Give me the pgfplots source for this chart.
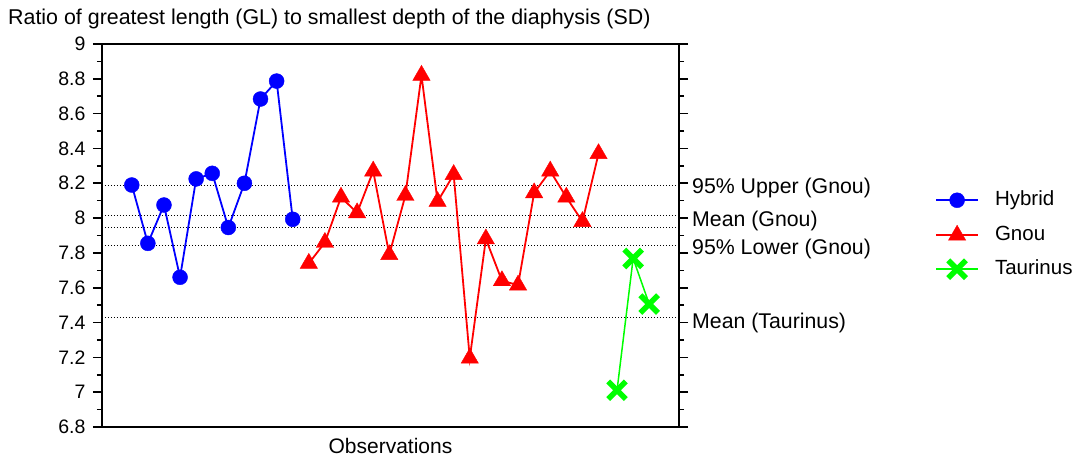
\documentclass[border=0pt]{standalone}
\usepackage{fontspec}
\setmainfont{Liberation Sans}
\usepackage{pgfplots}
\pgfplotsset{compat=1.18}
\definecolor{myblue}{RGB}{0,0,255}
\definecolor{myred}{RGB}{255,0,0}
\definecolor{mygreen}{RGB}{0,255,0}
\begin{document}
\begin{tikzpicture}
\begin{axis}[
  name=main,
  at={(0pt,0pt)}, anchor=south west,
  scale only axis, width=577pt, height=383pt,
  xmin=-0.85, xmax=35, ymin=6.8, ymax=9,
  xtick=\empty,
  ytick={6.8,7,7.2,7.4,7.6,7.8,8,8.2,8.4,8.6,8.8,9},
  minor y tick num=1,
  tick align=outside,
  major tick length=9pt, minor tick length=5pt,
  axis line style={line width=1.6pt, black},
  tick style={line width=1.6pt, black},
  /pgf/number format/assume math mode=true,
  /pgf/number format/fixed,
  yticklabel style={font=\fontsize{19.5}{19.5}\selectfont, xshift=-4pt},
  xlabel={Observations},
  xlabel style={font=\fontsize{21}{21}\selectfont, at={(axis description cs:0.5,0)}, anchor=base, yshift=-27pt},
  clip=false,
  legend cell align=left,
  legend style={draw=none, fill=none, at={(axis description cs:1.4437,0.502)}, anchor=west,
    inner sep=0pt, row sep=16pt,
    nodes={inner sep=0pt, font=\fontsize{20.5}{20.5}\selectfont, text height=14pt, text depth=4pt},
    /tikz/every odd column/.append style={column sep=16pt}},
  legend image code/.code={\draw[mark repeat=2,mark phase=2,#1] plot coordinates {(0pt,0pt) (21pt,0pt) (42pt,0pt)};},
]
% reference lines
\addplot[black, line width=1pt, dash pattern=on 1pt off 2pt, forget plot] coordinates {(-0.85,8.188) (35,8.188)};
\addplot[black, line width=1pt, dash pattern=on 1pt off 2pt, forget plot] coordinates {(-0.85,8.017) (35,8.017)};
\addplot[black, line width=1pt, dash pattern=on 1pt off 2pt, forget plot] coordinates {(-0.85,7.948) (35,7.948)};
\addplot[black, line width=1pt, dash pattern=on 1pt off 2pt, forget plot] coordinates {(-0.85,7.845) (35,7.845)};
\addplot[black, line width=1pt, dash pattern=on 1pt off 2pt, forget plot] coordinates {(-0.85,7.429) (35,7.429)};
% Hybrid
\addplot[myblue, line width=1.8pt, mark=*, mark size=7.5pt, mark options={solid, fill=myblue, draw=myblue, line width=0.4pt}]
coordinates {(1,8.19) (2,7.855) (3,8.075) (4,7.66) (5,8.225) (6,8.257) (7,7.946) (8,8.20) (9,8.684) (10,8.787) (11,7.993)};
\addlegendentry{Hybrid}
% Gnou
\addplot[myred, line width=1.8pt, mark=triangle*, mark size=10pt, mark options={solid, fill=myred, draw=myred, line width=0.4pt}]
coordinates {(12,7.74) (13,7.86) (14,8.12) (15,8.03) (16,8.27) (17,7.79) (18,8.13) (19,8.82) (20,8.095) (21,8.25) (22,7.195) (23,7.88) (24,7.64) (25,7.615) (26,8.145) (27,8.27) (28,8.12) (29,7.98) (30,8.37)};
\addlegendentry{Gnou}
% Taurinus
\addplot[mygreen, line width=1.5pt, mark=x, mark size=12.5pt, mark options={solid, draw=mygreen, line width=5.5pt}]
coordinates {(31.15,7.011) (32.15,7.768) (33.15,7.506)};
\addlegendentry{Taurinus}
% right-hand labels
\node[anchor=base west, inner sep=0pt, xshift=13pt, font=\fontsize{21.3}{21.3}\selectfont] at (axis cs:35,8.142) {95\% Upper (Gnou)};
\node[anchor=base west, inner sep=0pt, xshift=13pt, font=\fontsize{21.3}{21.3}\selectfont] at (axis cs:35,7.954) {Mean (Gnou)};
\node[anchor=base west, inner sep=0pt, xshift=13pt, font=\fontsize{21.3}{21.3}\selectfont] at (axis cs:35,7.791) {95\% Lower (Gnou)};
\node[anchor=base west, inner sep=0pt, xshift=13pt, font=\fontsize{21.3}{21.3}\selectfont] at (axis cs:35,7.366) {Mean (Taurinus)};
\end{axis}
\node[anchor=base west, inner sep=0pt, font=\fontsize{21.4}{21.4}\selectfont] at ([xshift=-94pt, yshift=19pt]main.north west) {Ratio of greatest length (GL) to smallest depth of the diaphysis (SD)};
\pgfresetboundingbox
\useasboundingbox (-102pt,-36pt) rectangle (977pt,427pt);
\end{tikzpicture}
\end{document}
